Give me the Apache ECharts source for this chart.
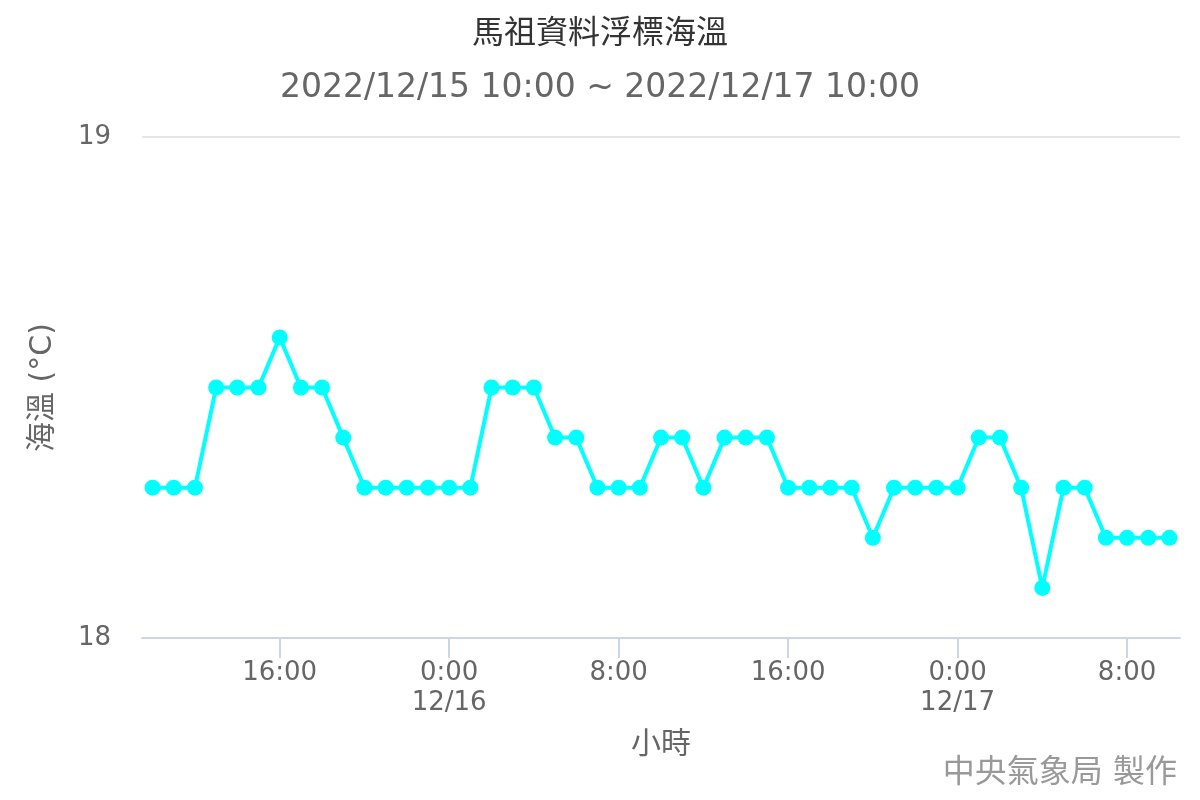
<!DOCTYPE html>
<html>
<head>
<meta charset="utf-8">
<script src="https://cdn.jsdelivr.net/npm/echarts@6/dist/echarts.min.js"></script>
<style>html,body{margin:0;padding:0;background:#fff}#c{width:1200px;height:800px}</style>
</head>
<body>
<div id="c"></div>
<script>
const titleText = '馬祖資料浮標海溫';
const subtitleText = '2022/12/15 10:00 ~ 2022/12/17 10:00';
const yAxisName = '海溫 (°C)';
const xAxisName = '小時';
const creditText = '中央氣象局 製作';

const hours = [
  '10:00','11:00','12:00','13:00','14:00','15:00','16:00','17:00','18:00','19:00',
  '20:00','21:00','22:00','23:00','0:00\n12/16','1:00','2:00','3:00','4:00','5:00',
  '6:00','7:00','8:00','9:00','10:00','11:00','12:00','13:00','14:00','15:00',
  '16:00','17:00','18:00','19:00','20:00','21:00','22:00','23:00','0:00\n12/17','1:00',
  '2:00','3:00','4:00','5:00','6:00','7:00','8:00','9:00','10:00'
];
const labelIndices = [6, 14, 22, 30, 38, 46];

const seaTemp = [
  18.3, 18.3, 18.3, 18.5, 18.5, 18.5, 18.6, 18.5, 18.5, 18.4,
  18.3, 18.3, 18.3, 18.3, 18.3, 18.3, 18.5, 18.5, 18.5, 18.4,
  18.4, 18.3, 18.3, 18.3, 18.4, 18.4, 18.3, 18.4, 18.4, 18.4,
  18.3, 18.3, 18.3, 18.3, 18.2, 18.3, 18.3, 18.3, 18.3, 18.4,
  18.4, 18.3, 18.1, 18.3, 18.3, 18.2, 18.2, 18.2, 18.2
];
const yTicks = [18, 19];

const FONT = '"DejaVu Sans", "Noto Sans CJK TC", sans-serif';
const chart = echarts.init(document.getElementById('c'));
chart.setOption({
  backgroundColor: '#ffffff',
  animation: false,
  textStyle: { fontFamily: FONT },
  title: [
    { text: titleText, left: 'center', top: 14,
      textStyle: { fontSize: 32, fontWeight: 'normal', color: '#333333', fontFamily: FONT } },
    { text: subtitleText, left: 'center', top: 67,
      textStyle: { fontSize: 33, fontWeight: 'normal', color: '#666666', fontFamily: FONT } },
    { text: creditText, right: 18, bottom: 5,
      textStyle: { fontSize: 32, fontWeight: 'normal', color: '#999999', fontFamily: FONT } }
  ],
  grid: { left: 142, right: 20, top: 137, bottom: 162, containLabel: false },
  xAxis: {
    type: 'category',
    data: hours,
    boundaryGap: true,
    name: xAxisName,
    nameLocation: 'middle',
    nameGap: 92,
    nameTextStyle: { fontSize: 30, color: '#666666', fontFamily: FONT },
    axisLine: { show: true, lineStyle: { color: '#ccd6eb', width: 2 } },
    axisTick: {
      show: true, alignWithLabel: true, length: 20,
      interval: (i) => labelIndices.includes(i),
      lineStyle: { color: '#ccd6eb', width: 2 }
    },
    axisLabel: {
      interval: (i) => labelIndices.includes(i),
      fontSize: 26, color: '#666666', margin: 20, lineHeight: 30, fontFamily: FONT
    },
    splitLine: { show: false }
  },
  yAxis: {
    type: 'value',
    min: yTicks[0],
    max: yTicks[1],
    interval: 1,
    name: yAxisName,
    nameLocation: 'middle',
    nameRotate: 90,
    nameGap: 84,
    nameTextStyle: { fontSize: 30, color: '#666666', fontFamily: FONT },
    axisLine: { show: false },
    axisTick: { show: false },
    axisLabel: { fontSize: 26, color: '#666666', margin: 31, fontFamily: FONT },
    splitLine: { show: true, lineStyle: { color: '#e6e6e6', width: 2 } }
  },
  series: [{
    type: 'line',
    data: seaTemp,
    symbol: 'circle',
    symbolSize: 16,
    showSymbol: true,
    showAllSymbol: true,
    lineStyle: { color: '#00ffff', width: 4 },
    itemStyle: { color: '#00ffff' },
    z: 3
  }]
});
</script>
</body>
</html>
